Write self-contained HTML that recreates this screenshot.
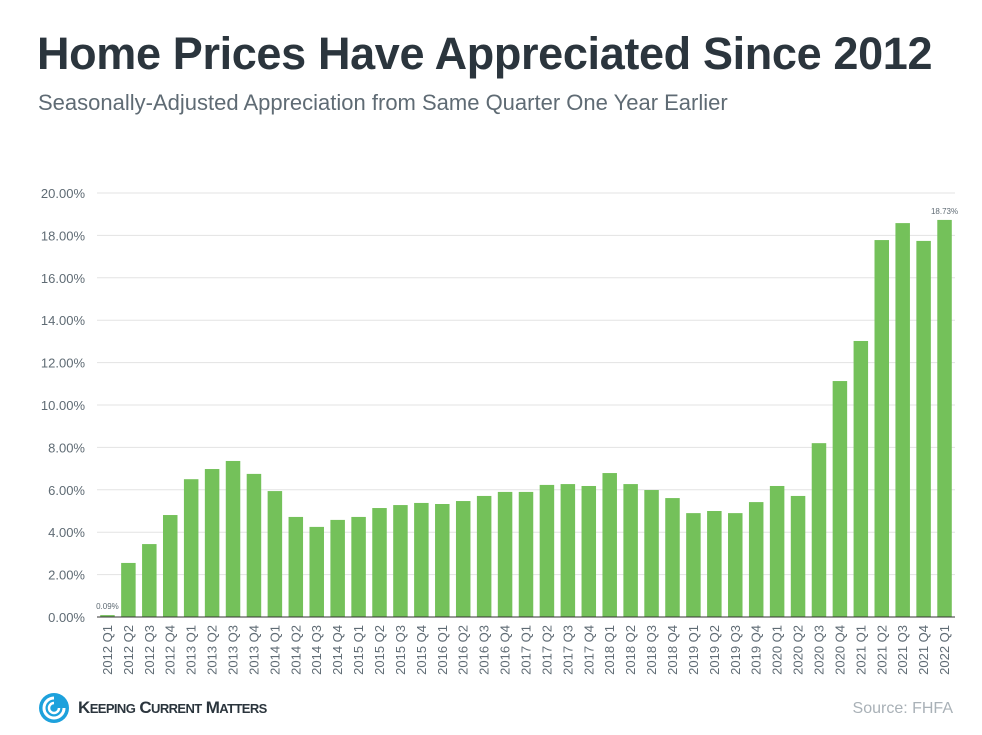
<!DOCTYPE html>
<html><head><meta charset="utf-8"><style>
body{margin:0;width:982px;height:735px;background:#fff;font-family:"Liberation Sans",Arial,sans-serif;overflow:hidden;position:relative}
h1{position:absolute;left:37px;top:28px;margin:0;font-size:45px;font-weight:bold;color:#2b353d;letter-spacing:-0.35px}
.sub{position:absolute;left:38px;top:90px;font-size:22px;color:#5f6b74}
.src{position:absolute;right:29px;top:700px;font-size:16px;color:#a9b1b7}
.logo{position:absolute;left:38px;top:692px;display:flex;align-items:center}
.logo span{font-size:17px;font-weight:bold;color:#2b353d;margin-left:8px;letter-spacing:-0.6px}
.logo small{font-size:13px}
</style></head><body>
<h1>Home Prices Have Appreciated Since 2012</h1>
<div class="sub">Seasonally-Adjusted Appreciation from Same Quarter One Year Earlier</div>
<svg id="chart" width="982" height="735" style="position:absolute;left:0;top:0"></svg>
<div class="logo">
<svg width="32" height="32" viewBox="0 0 32 32"><circle cx="16" cy="16" r="15" fill="#1da1dc"/><path d="M16 6a10 10 0 1 0 10 10" stroke="#fff" stroke-width="3" fill="none"/><path d="M16 11a5 5 0 1 0 5 5" stroke="#fff" stroke-width="2.5" fill="none"/></svg>
<span>K<small>EEPING</small> C<small>URRENT</small> M<small>ATTERS</small></span></div>
<div class="src">Source: FHFA</div>
<script>
const categories=["2012 Q1","2012 Q2","2012 Q3","2012 Q4","2013 Q1","2013 Q2","2013 Q3","2013 Q4","2014 Q1","2014 Q2","2014 Q3","2014 Q4","2015 Q1","2015 Q2","2015 Q3","2015 Q4","2016 Q1","2016 Q2","2016 Q3","2016 Q4","2017 Q1","2017 Q2","2017 Q3","2017 Q4","2018 Q1","2018 Q2","2018 Q3","2018 Q4","2019 Q1","2019 Q2","2019 Q3","2019 Q4","2020 Q1","2020 Q2","2020 Q3","2020 Q4","2021 Q1","2021 Q2","2021 Q3","2021 Q4","2022 Q1"];
const values=[0.09,2.55,3.44,4.81,6.5,6.98,7.36,6.75,5.94,4.72,4.25,4.58,4.72,5.14,5.28,5.38,5.33,5.47,5.71,5.9,5.9,6.23,6.27,6.18,6.79,6.27,5.99,5.61,4.9,5.0,4.9,5.42,6.18,5.71,8.2,11.13,13.02,17.78,18.58,17.74,18.73];
const yTicks=[0,2,4,6,8,10,12,14,16,18,20];
const labeledIdx=[0,40];
const svg=document.getElementById('chart');const NS='http://www.w3.org/2000/svg';
const X0=97,X1=955,Y0=617,Y1=193,YMAX=20;
const slot=(X1-X0)/categories.length,bw=14.5;
const y=v=>Y0-(v/YMAX)*(Y0-Y1);
const x=i=>X0+slot*(i+0.5);
function mk(t,a){const e=document.createElementNS(NS,t);for(const k in a)e.setAttribute(k,a[k]);svg.appendChild(e);return e;}
yTicks.forEach(t=>{
 if(t>0){const g=mk('line',{x1:X0,x2:X1,y1:y(t),y2:y(t),stroke:'#e3e3e3','stroke-width':1});
 
 }
 const l=mk('text',{x:85,y:y(t)+5,'text-anchor':'end','font-size':13,fill:'#5f6b74','font-family':'Liberation Sans, sans-serif'});
 l.textContent=t.toFixed(2)+'%';
 
 
});
values.forEach((v,i)=>{
 const r=mk('rect',{x:x(i)-bw/2,y:y(v),width:bw,height:Y0-y(v),fill:'#74c15a'});
 
 
 const t=mk('text',{transform:`translate(${x(i)+4.5},625) rotate(-90)`,'text-anchor':'end','font-size':13,fill:'#5f6b74','font-family':'Liberation Sans, sans-serif'});
 t.textContent=categories[i];
 
 
});
labeledIdx.forEach(i=>{
 const t=mk('text',{x:x(i),y:y(values[i])-6,'text-anchor':'middle','font-size':8,fill:'#5f6b74','font-family':'Liberation Sans, sans-serif'});
 t.textContent=values[i].toFixed(2)+'%';
 
 
});
const ax=mk('line',{x1:X0,x2:X1,y1:Y0,y2:Y0,stroke:'#333','stroke-width':1});


</script>
</body></html>
